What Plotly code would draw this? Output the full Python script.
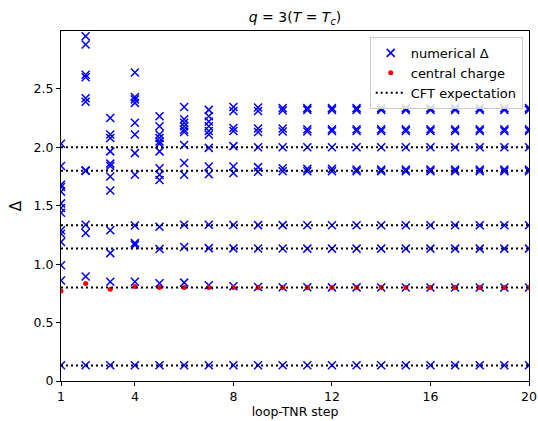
import plotly.graph_objects as go

steps = list(range(1, 21))

delta_by_step = [
    [2.03, 1.84, 1.68, 1.66, 1.62, 1.52, 1.48, 1.44, 1.29, 1.26, 1.19, 0.99, 0.86, 0.135],
    [2.95, 2.88, 2.62, 2.60, 2.42, 2.39, 1.80, 1.80, 1.337, 1.266, 0.894, 0.135],
    [2.25, 2.11, 2.08, 1.965, 1.86, 1.84, 1.75, 1.63, 1.29, 1.094, 0.85, 0.135],
    [2.64, 2.43, 2.41, 2.38, 2.21, 2.11, 1.95, 1.765, 1.33, 1.18, 1.165, 0.85, 0.135],
    [2.265, 2.18, 2.11, 2.08, 2.05, 2.03, 1.965, 1.82, 1.765, 1.72, 1.32, 1.13, 0.837, 0.135],
    [2.345, 2.24, 2.21, 2.18, 2.15, 2.13, 2.02, 1.865, 1.765, 1.337, 1.146, 0.842, 0.135],
    [2.32, 2.265, 2.22, 2.18, 2.14, 2.11, 1.995, 1.835, 1.77, 1.337, 1.137, 0.82, 0.135],
    [2.345, 2.31, 2.165, 2.14, 2.01, 1.835, 1.78, 1.335, 1.135, 0.81, 0.135],
    [2.34, 2.31, 2.16, 2.13, 2.0, 1.83, 1.79, 1.334, 1.134, 0.805, 0.134],
    [2.335, 2.315, 2.16, 2.135, 2.0, 1.82, 1.795, 1.334, 1.134, 0.803, 0.134],
    [2.335, 2.32, 2.155, 2.135, 2.0, 1.815, 1.795, 1.333, 1.133, 0.802, 0.134],
    [2.335, 2.32, 2.155, 2.14, 2.0, 1.815, 1.795, 1.333, 1.133, 0.801, 0.134],
    [2.335, 2.32, 2.155, 2.14, 2.0, 1.81, 1.795, 1.333, 1.133, 0.801, 0.134],
    [2.335, 2.32, 2.155, 2.14, 2.0, 1.81, 1.795, 1.333, 1.133, 0.8, 0.134],
    [2.335, 2.32, 2.155, 2.14, 2.0, 1.81, 1.795, 1.333, 1.133, 0.8, 0.134],
    [2.335, 2.32, 2.155, 2.14, 2.0, 1.81, 1.795, 1.333, 1.133, 0.8, 0.134],
    [2.335, 2.32, 2.155, 2.14, 2.0, 1.81, 1.795, 1.333, 1.133, 0.8, 0.134],
    [2.335, 2.32, 2.155, 2.14, 2.0, 1.81, 1.795, 1.333, 1.133, 0.8, 0.134],
    [2.335, 2.32, 2.155, 2.14, 2.0, 1.81, 1.795, 1.333, 1.133, 0.8, 0.134],
    [2.335, 2.32, 2.155, 2.14, 2.0, 1.81, 1.795, 1.333, 1.133, 0.8, 0.134],
]

central_charge = [0.77, 0.835, 0.785, 0.808, 0.80, 0.80, 0.80, 0.80, 0.80, 0.80,
                  0.80, 0.80, 0.80, 0.80, 0.80, 0.80, 0.80, 0.80, 0.80, 0.80]

cft_values = [2 / 15, 0.8, 17 / 15, 4 / 3, 1.8, 2.0]

x_ticks = [1, 4, 8, 12, 16, 20]
y_ticks = [0, 0.5, 1.0, 1.5, 2.0, 2.5]
y_tick_labels = ["0", "0.5", "1.0", "1.5", "2.0", "2.5"]

FONT = "DejaVu Sans"

xs, ys = [], []
for s, vals in zip(steps, delta_by_step):
    for v in vals:
        xs.append(s)
        ys.append(v)

fig = go.Figure()

fig.add_trace(go.Scatter(
    x=xs, y=ys, mode="markers", name="numerical Δ",
    marker=dict(symbol="x-thin", size=8, color="blue",
                line=dict(color="blue", width=1.5)),
))

fig.add_trace(go.Scatter(
    x=steps, y=central_charge, mode="markers", name="central charge",
    marker=dict(symbol="circle", size=5, color="red", line=dict(width=0)),
))

for i, v in enumerate(cft_values):
    fig.add_trace(go.Scatter(
        x=[steps[0], steps[-1]], y=[v, v], mode="lines",
        name="CFT expectation", legendgroup="cft", showlegend=(i == 0),
        line=dict(color="black", width=2, dash="2px,3px"),
    ))

fig.update_layout(
    width=538, height=421,
    margin=dict(l=61, r=9, t=31, b=40, autoexpand=False),
    plot_bgcolor="white", paper_bgcolor="white",
    font=dict(family=FONT, size=12.5, color="black"),
    title=dict(
        text="<i>q</i> = 3(<i>T</i> = <i>T</i><sub><i>c</i></sub>)",
        x=0.5, xref="paper", xanchor="center",
        y=1 - 17 / 421, yref="container", yanchor="middle",
        font=dict(family=FONT, size=14, color="black"),
    ),
    xaxis=dict(
        range=[1, 20], tickvals=x_ticks, ticktext=[str(t) for t in x_ticks],
        showgrid=False, zeroline=False, automargin=False,
        showline=True, linecolor="black", linewidth=1, mirror=True,
        ticks="outside", ticklen=4, tickwidth=1, tickcolor="black",
        tickfont=dict(size=12.5),
        title=dict(text="loop-TNR step", font=dict(size=12.5), standoff=3),
    ),
    yaxis=dict(
        range=[0, 2.995], tickvals=y_ticks, ticktext=y_tick_labels,
        showgrid=False, zeroline=False, automargin=False,
        showline=True, linecolor="black", linewidth=1, mirror=True,
        ticks="outside", ticklen=4, tickwidth=1, tickcolor="black",
        tickfont=dict(size=12.5),
        title=dict(text="Δ", font=dict(size=15), standoff=8),
    ),
    legend=dict(
        x=0.9866, y=0.983, xanchor="right", yanchor="top",
        bgcolor="rgba(255,255,255,0.85)", bordercolor="#cccccc", borderwidth=1,
        font=dict(family=FONT, size=13), tracegroupgap=0,
    ),
    showlegend=True,
)

fig.write_html("out.html")
